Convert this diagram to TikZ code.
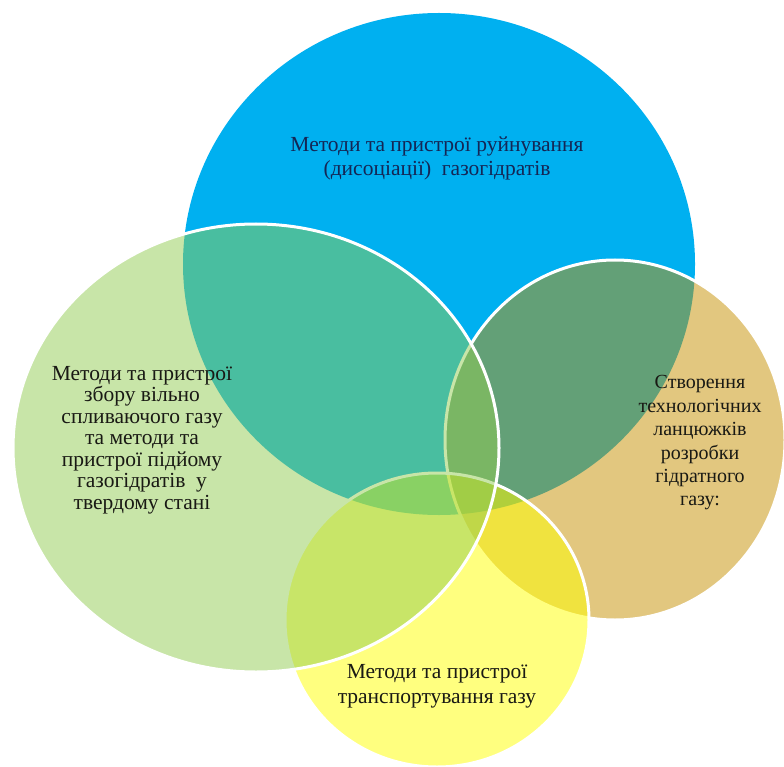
\documentclass[tikz,border=0pt]{standalone}
\usepackage{fontspec}
\setmainfont{Liberation Serif}
\newfontfamily\vennserif{Liberation Serif}
\definecolor{cblue}{RGB}{0,176,240}
\definecolor{ctan}{RGB}{198,145,0}
\definecolor{cyel}{RGB}{255,255,0}
\definecolor{cgreen}{RGB}{146,204,82}
\definecolor{cnavy}{RGB}{20,38,85}
\definecolor{cink}{RGB}{25,25,20}
\begin{document}
\begin{tikzpicture}[x=1pt,y=-1pt,
  vennshape/.style={draw=white, line width=3pt, fill opacity=0.5},
  lbl/.style={align=center, font=\vennserif\fontsize{21.5}{23}\selectfont, text=cink, inner sep=0pt}]
\useasboundingbox (0,0) rectangle (784,767);
\fill[white] (0,0) rectangle (784,767);
% blue (opaque, no outline)
\path[fill=cblue] (439,264) ellipse [x radius=256, y radius=251];
% tan
\path[vennshape, fill=ctan] (615,440) ellipse [x radius=170, y radius=180];
% yellow
\path[vennshape, fill=cyel] (437,620) ellipse [x radius=152, y radius=147];
% green
\path[vennshape, fill=cgreen] (256,448) ellipse [x radius=243, y radius=224];
% labels
\node[lbl, text=cnavy, font=\vennserif\fontsize{21.5}{24}\selectfont] (tblue) at (437,158) {Методи та пристрої руйнування\\(дисоціації)\ \ газогідратів};
\node[lbl, font=\vennserif\fontsize{21.5}{21.5}\selectfont] (tgreen) at (142,440) {Методи та пристрої\\збору вільно\\спливаючого газу\\та методи та\\пристрої підйому\\газогідратів\ \ у\\твердому стані};
\node[lbl, font=\vennserif\fontsize{20}{23.4}\selectfont] (ttan) at (700,443) {Створення\\технологічних\\ланцюжків\\розробки\\гідратного\\газу:};
\node[lbl, font=\vennserif\fontsize{21.5}{25}\selectfont] (tyel) at (437,686) {Методи та пристрої\\транспортування газу};
\end{tikzpicture}
\end{document}
